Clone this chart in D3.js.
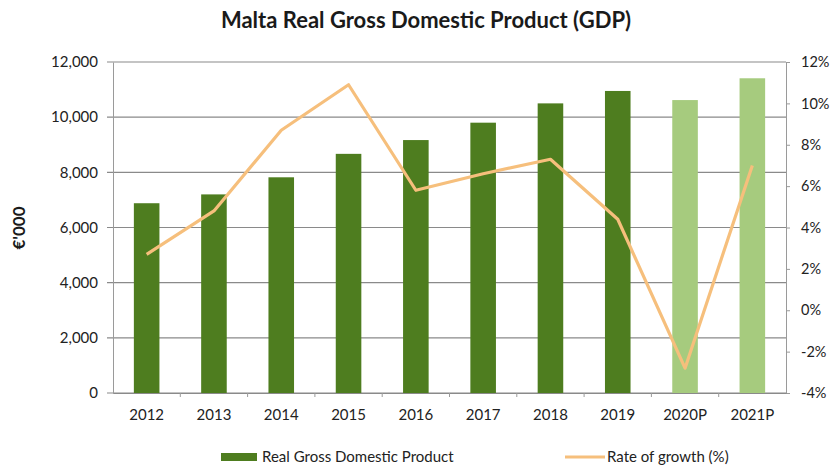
<!DOCTYPE html>
<html>
<head>
<meta charset="utf-8">
<script src="https://cdn.jsdelivr.net/npm/d3@7"></script>
<style>
  body { margin: 0; background: #fff; }
  svg { font-family: Lato, "Open Sans", sans-serif; }
  svg .tick text { font-family: Lato, "Open Sans", sans-serif; }
</style>
</head>
<body>
<div id="chart"></div>
<script>
// chart values
const years = ["2012", "2013", "2014", "2015", "2016", "2017", "2018", "2019", "2020P", "2021P"];
const gdp = [6880, 7200, 7820, 8670, 9170, 9800, 10500, 10950, 10620, 11410];
const growth = [2.7, 4.8, 8.7, 10.9, 5.8, 6.6, 7.3, 4.4, -2.8, 7.0];
const projected = [false, false, false, false, false, false, false, false, true, true];
const leftTicks = [0, 2000, 4000, 6000, 8000, 10000, 12000];
const rightTicks = [-4, -2, 0, 2, 4, 6, 8, 10, 12];

const W = 830, H = 467;
const margin = {top: 62, right: 44, bottom: 74, left: 113};
const width = W - margin.left - margin.right,
      height = H - margin.top - margin.bottom;

const svg = d3.select("#chart").append("svg")
    .attr("width", W)
    .attr("height", H);

const g = svg.append("g")
    .attr("transform", "translate(" + margin.left + "," + margin.top + ")");

const x = d3.scaleBand()
    .domain(years)
    .range([0, width])
    .padding(0);

const y = d3.scaleLinear()
    .domain([0, 12000])
    .range([height, 0]);

const y2 = d3.scaleLinear()
    .domain([-4, 12])
    .range([height, 0]);

// gridlines
g.append("g")
    .selectAll("line")
    .data(leftTicks)
    .enter()
    .append("line")
    .attr("x1", -6)
    .attr("x2", width)
    .attr("y1", d => y(d))
    .attr("y2", d => y(d))
    .attr("stroke", "#8a8a8a")
    .attr("stroke-width", 1.2);

// left axis
const leftAxis = g.append("g")
    .call(d3.axisLeft(y).tickValues(leftTicks).tickSize(0).tickPadding(15).tickFormat(d3.format(",")));
leftAxis.attr("font-family", null);
leftAxis.select(".domain").attr("stroke", "#9a9a9a");
leftAxis.selectAll("text").attr("font-size", 15).attr("fill", "#222");

// right axis
const rightAxis = g.append("g")
    .attr("transform", "translate(" + width + ",0)")
    .call(d3.axisRight(y2).tickValues(rightTicks).tickSize(4).tickPadding(11).tickFormat(d => d + "%"));
rightAxis.attr("font-family", null);
rightAxis.select(".domain").attr("stroke", "#9a9a9a");
rightAxis.selectAll(".tick line").attr("stroke", "#9a9a9a");
rightAxis.selectAll("text").attr("font-size", 14.5).attr("fill", "#222");

// bottom axis, ticks between categories
const bottomAxis = g.append("g")
    .attr("transform", "translate(0," + height + ")")
    .call(d3.axisBottom(x).tickSize(0).tickPadding(16));
bottomAxis.attr("font-family", null);
bottomAxis.select(".domain").attr("stroke", "#8a8a8a").attr("stroke-width", 1.2);
bottomAxis.selectAll("text").attr("font-size", 15).attr("fill", "#222");
bottomAxis.selectAll(".sep")
    .data(years.slice(1))
    .enter()
    .append("line")
    .attr("x1", d => x(d))
    .attr("x2", d => x(d))
    .attr("y1", 0)
    .attr("y2", 4)
    .attr("stroke", "#9a9a9a");

// bars
const barW = x.bandwidth() * 0.38;
g.selectAll(".bar")
    .data(years)
    .enter()
    .append("rect")
    .attr("x", d => x(d) + (x.bandwidth() - barW) / 2)
    .attr("y", (d, i) => y(gdp[i]))
    .attr("width", barW)
    .attr("height", (d, i) => height - y(gdp[i]))
    .attr("fill", (d, i) => projected[i] ? "#a6cb7e" : "#4e7d1f");

// growth line
const line = d3.line()
    .x((d, i) => x(years[i]) + x.bandwidth() / 2)
    .y(d => y2(d));

g.append("path")
    .datum(growth)
    .attr("d", line)
    .attr("fill", "none")
    .attr("stroke", "#f6bf7c")
    .attr("stroke-width", 3.2)
    .attr("stroke-linejoin", "round");

// title
svg.append("text")
    .attr("x", 426)
    .attr("y", 28)
    .attr("text-anchor", "middle")
    .attr("font-size", 22)
    .attr("font-weight", "bold")
    .attr("fill", "#1a1a1a")
    .text("Malta Real Gross Domestic Product (GDP)");

// y axis title
svg.append("text")
    .attr("transform", "translate(25,228)rotate(-90)")
    .attr("text-anchor", "middle")
    .attr("font-size", 17)
    .attr("font-weight", "bold")
    .attr("fill", "#1a1a1a")
    .text("€'000");

// legend
const legend = svg.append("g");
legend.append("rect")
    .attr("x", 221)
    .attr("y", 453)
    .attr("width", 36)
    .attr("height", 8)
    .attr("fill", "#4e7d1f");
legend.append("text")
    .attr("x", 262)
    .attr("y", 462)
    .attr("font-size", 15)
    .attr("fill", "#222")
    .text("Real Gross Domestic Product");
legend.append("line")
    .attr("x1", 565)
    .attr("x2", 605)
    .attr("y1", 457)
    .attr("y2", 457)
    .attr("stroke", "#f6bf7c")
    .attr("stroke-width", 3);
legend.append("text")
    .attr("x", 607)
    .attr("y", 462)
    .attr("font-size", 15)
    .attr("fill", "#222")
    .text("Rate of growth (%)");
</script>
</body>
</html>
